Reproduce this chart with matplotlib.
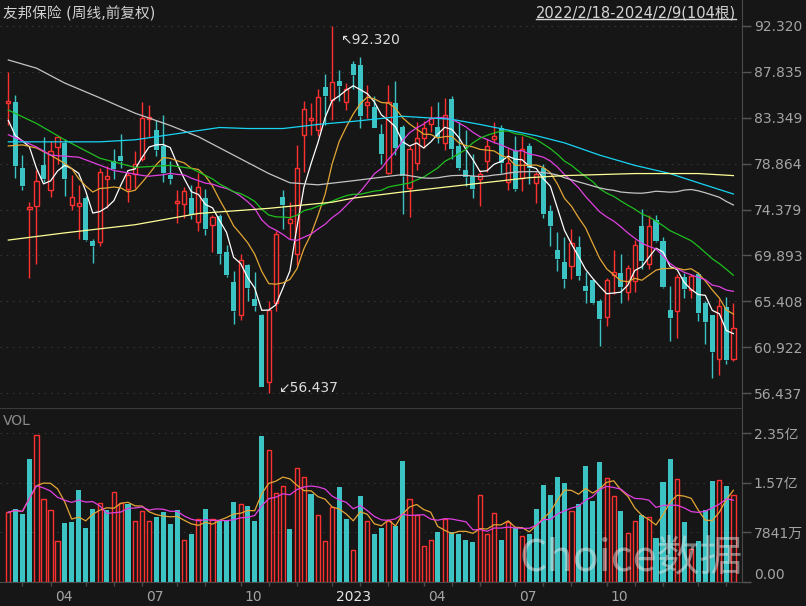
import numpy as np
import pandas as pd
import matplotlib
matplotlib.use('Agg')
import matplotlib.pyplot as plt
from matplotlib.transforms import offset_copy

plt.rcParams['font.family'] = ['DejaVu Sans', 'Noto Sans CJK SC']

# weekly bars 2022/2/18 - 2024/2/9 (104), front-adjusted
opens = [84.8, 84.9, 78.41, 74.41, 74.76, 78.73, 76.34, 80.45, 80.87, 74.86,
         74.69, 75.5, 71.35, 71.17, 77.32, 79.15, 79.61, 76.41, 77.85, 79.33,
         83.26, 82.14, 80.56, 77.75, 75.04, 74.93, 75.53, 73.18, 75.53, 72.89,
         73.77, 70.22, 67.3, 64.11, 68.92, 65.69, 64.11, 57.53, 65.27, 75.64,
         73.1, 70.08, 81.68, 83.16, 82.14, 86.36, 85.13, 86.99, 84.92, 88.57,
         88.47, 84.63, 84.42, 81.75, 77.99, 84.78, 82.42, 76.45, 78.98, 81.33,
         82.77, 82.42, 80.84, 85.2, 80.63, 78.24, 77.67, 77.32, 79.08, 81.26,
         82.31, 77.04, 80.13, 77.5, 80.56, 76.97, 78.45, 74.23, 70.43, 69.24,
         68.89, 70.71, 66.92, 67.48, 65.44, 63.93, 67.97, 68.19, 66.32, 67.38,
         72.75, 69.03, 73.35, 71.35, 64.56, 64.46, 67.8, 66.5, 68.08, 65.27,
         64.04, 59.75, 64.88, 59.75]
highs = [87.8, 85.55, 79.68, 75.11, 78.2, 81.44, 81.08, 81.6, 81.26, 77.75,
         76.76, 75.7, 71.52, 78.45, 78.62, 80.27, 81.79, 78.1, 80.06, 84.85,
         84.6, 83.09, 83.6, 79.15, 76.34, 76.58, 76.76, 77.92, 76.41, 73.84,
         73.98, 70.89, 68.33, 70.08, 69.03, 68.26, 64.21, 65.44, 72.3, 76.27,
         75.11, 80.73, 84.95, 84.78, 86.18, 87.59, 92.32, 88.01, 86.71, 88.89,
         89.27, 86.53, 85.48, 82.77, 86.6, 86.95, 82.67, 80.56, 82.91, 83.02,
         84.53, 84.85, 85.3, 85.48, 82.91, 82.14, 79.78, 78.27, 81.26, 82.91,
         82.67, 80.38, 81.54, 81.61, 80.91, 78.1, 78.8, 74.83, 72.19, 71.7,
         72.47, 71.84, 68.26, 67.62, 65.62, 67.73, 70.47, 70.01, 68.96, 71.42,
         74.41, 73.88, 73.88, 71.7, 66.92, 68.08, 68.19, 68.08, 68.26, 65.44,
         64.04, 65.62, 65.79, 65.27]
lows = [82.6, 77.5, 76.27, 67.73, 69.06, 77.04, 75.64, 78.87, 75.71, 74.3,
        71.52, 71.35, 69.13, 70.79, 74.58, 77.4, 78.45, 75.11, 76.52, 79.15,
        81.44, 79.57, 77.04, 76.87, 73.1, 73.6, 73.46, 72.3, 71.87, 70.26,
        69.03, 67.8, 63.16, 63.58, 65.44, 64.46, 57.0, 56.437, 64.46, 72.47,
        71.49, 68.96, 78.1, 81.68, 81.54, 82.67, 83.09, 84.95, 84.07, 86.18,
        82.39, 83.37, 82.31, 78.8, 77.9, 79.68, 73.98, 73.7, 78.27, 80.38,
        81.96, 80.84, 80.2, 79.33, 78.27, 76.7, 75.53, 74.76, 78.1, 80.91,
        77.92, 76.34, 76.16, 76.23, 76.87, 75.04, 73.53, 70.82, 68.33, 66.74,
        67.62, 67.48, 65.27, 65.2, 61.05, 62.98, 66.15, 65.27, 65.51, 66.32,
        68.54, 68.61, 71.24, 66.67, 61.58, 61.86, 65.72, 65.72, 63.51, 61.22,
        57.95, 58.17, 59.3, 59.56]
closes = [85.0, 78.66, 76.66, 74.62, 77.15, 77.36, 80.13, 81.51, 77.36, 75.57,
          75.04, 71.42, 70.79, 78.1, 77.64, 78.31, 79.15, 77.75, 78.87, 83.3,
          83.4, 80.2, 77.92, 77.39, 75.21, 76.23, 73.88, 76.58, 72.47, 73.63,
          70.08, 67.97, 64.46, 69.42, 66.74, 64.99, 57.08, 64.56, 71.97, 74.86,
          73.46, 78.45, 84.18, 83.37, 85.37, 85.45, 86.81, 86.43, 86.18, 87.52,
          83.55, 84.85, 82.39, 79.85, 84.85, 80.35, 77.64, 80.27, 81.33, 82.39,
          83.3, 81.44, 83.65, 80.27, 78.45, 77.53, 76.41, 77.85, 80.63, 81.61,
          78.91, 78.98, 76.41, 80.31, 78.45, 77.82, 73.98, 72.75, 69.59, 67.62,
          71.14, 67.9, 66.43, 65.27, 63.69, 67.48, 68.26, 66.85, 68.68, 70.89,
          69.31, 72.82, 71.35, 66.85, 63.76, 67.83, 66.57, 67.9, 64.32, 63.4,
          60.45, 64.92, 59.71, 62.8]
# volume, unit 1e8 shares (亿)
volumes = [1.10, 1.16, 1.08, 1.94, 2.32, 1.31, 1.14, 0.64, 0.93, 0.95,
           1.46, 0.85, 1.16, 1.25, 1.14, 1.42, 1.25, 1.23, 0.97, 1.12,
           0.97, 1.03, 1.11, 0.92, 1.14, 0.67, 0.75, 0.99, 1.16, 0.99,
           0.98, 0.97, 1.26, 1.23, 1.20, 0.97, 2.30, 2.09, 1.40, 1.52,
           0.83, 1.80, 1.66, 1.39, 1.05, 0.64, 1.18, 1.50, 1.00, 0.51,
           1.36, 0.97, 0.75, 0.85, 0.97, 0.88, 1.91, 1.31, 1.05, 0.57,
           0.67, 0.79, 1.00, 0.79, 0.75, 0.67, 0.63, 1.37, 0.76, 1.09,
           0.66, 0.95, 0.86, 0.73, 0.76, 1.15, 1.53, 1.37, 1.65, 1.56,
           1.12, 1.23, 1.83, 1.28, 1.89, 1.64, 1.35, 1.12, 0.77, 0.96,
           1.06, 1.02, 0.69, 1.58, 1.94, 1.62, 0.95, 0.52, 0.65, 1.14,
           1.59, 1.61, 1.52, 1.38]

# moving-average values before the window fills
ma5_early_w = [0, 1, 2, 3]
ma5_early_v = [83.1, 81.6, 81.1, 80.5]
ma10_early_w = [0, 2, 4, 6, 8]
ma10_early_v = [80.6, 80.7, 80.4, 79.7, 78.9]
ma20_early_w = [0, 4, 6, 10, 15]
ma20_early_v = [81.7, 80.5, 79.7, 79.5, 78.2]
ma30_early_w = [0, 4, 8, 13, 18, 23, 26]
ma30_early_v = [84.1, 82.8, 81.2, 79.4, 78.5, 78.7, 78.4]
ma60_early_w = [0, 4, 8, 13, 18, 23, 27, 32, 37, 40, 44, 49, 56]
ma60_early_v = [89.0, 88.2, 86.75, 85.3, 83.8, 82.6, 81.5, 79.7, 77.9, 77.0, 76.8, 77.2, 77.8]
ma120_w = [0, 6, 13, 18, 23, 27, 30, 34, 39, 44, 49, 56, 63, 67, 75, 79, 84, 89, 94, 98, 103]
ma120_v = [81.0, 81.0, 81.0, 81.2, 81.7, 82.1, 82.4, 82.3, 82.3, 82.7, 83.0, 83.5,
           83.2, 82.7, 81.6, 80.9, 79.7, 78.7, 77.9, 77.0, 75.9]
ma250_w = [0, 8, 18, 27, 37, 46, 49, 56, 65, 74, 79, 89, 98, 103]
ma250_v = [71.4, 72.1, 72.9, 74.0, 74.5, 75.1, 75.5, 76.1, 76.8, 77.5, 77.7, 77.9, 77.9, 77.7]

price_ticks = [92.320, 87.835, 83.349, 78.864, 74.379, 69.893, 65.408, 60.922, 56.437]
vol_ticks = [0.0, 0.7841, 1.5682, 2.3523]
vol_tick_labels = ['0.00', '7841万', '1.57亿', '2.35亿']

month_weeks = [2, 6, 11, 15, 19, 24, 28, 33, 37, 41, 46, 50, 54, 59, 63, 67,
               72, 76, 80, 85, 89, 93, 98, 102]
label_weeks = [6, 19, 33, 46, 59, 72, 85]
label_texts = ['04', '07', '10', '2023', '04', '07', '10']

BG = '#161616'
RED = '#ff3030'
CYAN = '#3cc4c4'
GRID = '#3a3a3a'
TXT = '#a4a4a4'


def ma_line(values, n, early_w, early_v):
    m = pd.Series(values).rolling(n).mean().to_numpy()
    x = list(early_w) + list(range(n - 1, len(values)))
    y = list(early_v) + list(m[n - 1:])
    return x, y


fig = plt.figure(figsize=(8.06, 6.06), dpi=100, facecolor=BG)
ax = fig.add_axes([0, 198 / 606, 742 / 806, 408 / 606], facecolor=BG)
axv = fig.add_axes([0, 24 / 606, 742 / 806, 174 / 606], facecolor=BG, sharex=ax)

o, h, l, c = (np.asarray(a) for a in (opens, highs, lows, closes))
x = np.arange(len(c))
up = c >= o
top = np.maximum(o, c)
bot = np.minimum(o, c)
cols = np.where(up, RED, CYAN)
ax.vlines(x, top, h, colors=cols, lw=1, zorder=2)
ax.vlines(x, l, bot, colors=cols, lw=1, zorder=2)
body = np.maximum(top - bot, 0.12)
ax.bar(x[up], body[up], bottom=bot[up], width=0.6, facecolor=BG,
       edgecolor=RED, lw=1, zorder=2)
ax.bar(x[~up], body[~up], bottom=bot[~up], width=0.72, color=CYAN, lw=0, zorder=2)

# moving averages
lines = [
    (ma_line(closes, 5, ma5_early_w, ma5_early_v), '#ffffff'),
    (ma_line(closes, 10, ma10_early_w, ma10_early_v), '#e3a635'),
    (ma_line(closes, 20, ma20_early_w, ma20_early_v), '#e040e0'),
    (ma_line(closes, 30, ma30_early_w, ma30_early_v), '#1fbf1f'),
    (ma_line(closes, 60, ma60_early_w, ma60_early_v), '#c4c4c4'),
    ((ma120_w, ma120_v), '#18d4f4'),
    ((ma250_w, ma250_v), '#ffff96'),
]
for (lx, ly), col in lines:
    ax.plot(lx, ly, color=col, lw=0.9, zorder=3)

ax.set_xlim(-1.18, 104.22)
ax.set_ylim(54.99, 94.86)
ax.set_yticks(price_ticks)
ax.set_yticklabels([f'{v:.3f}' for v in price_ticks])
ax.yaxis.tick_right()
ax.tick_params(axis='y', colors='#555555', labelcolor=TXT, labelsize=10,
               length=6.5, width=1, pad=2)
ax.tick_params(axis='x', bottom=False, labelbottom=False)
ax.grid(axis='y', color=GRID, linestyle=(0, (1.2, 4.5)), lw=0.8)
for s in ['top', 'left', 'bottom']:
    ax.spines[s].set_visible(False)
ax.spines['right'].set_color('#4a4a4a')

# high / low annotations
ihi = int(np.argmax(h))
ilo = int(np.argmin(l))
ax.annotate('\u2196' + f'{h[ihi]:.3f}', xy=(ihi, h[ihi]), xytext=(6, -5),
            textcoords='offset points', ha='left', va='top',
            color='#dcdcdc', fontsize=10, zorder=5)
ax.annotate('\u2199' + f'{l[ilo]:.3f}', xy=(ilo, l[ilo]), xytext=(6.5, -1),
            textcoords='offset points', ha='left', va='bottom',
            color='#dcdcdc', fontsize=10, zorder=5)

# volume
v = np.asarray(volumes)
vup = np.r_[True, c[1:] >= c[:-1]]
axv.bar(x[vup], v[vup], width=0.6, facecolor=BG, edgecolor=RED, lw=1, zorder=2)
axv.bar(x[~vup], v[~vup], width=0.72, color=CYAN, lw=0, zorder=2)
axv.plot(x, pd.Series(volumes).rolling(5, min_periods=1).mean(), color='#e3a635', lw=0.9, zorder=3)
axv.plot(x, pd.Series(volumes).rolling(10, min_periods=1).mean(), color='#e040e0', lw=0.9, zorder=3)
axv.set_ylim(0, 2.747)
axv.set_yticks(vol_ticks)
axv.set_yticklabels(vol_tick_labels)
axv.yaxis.tick_right()
axv.tick_params(axis='y', colors='#555555', labelcolor=TXT, labelsize=10,
                length=6.5, width=1, pad=2)
axv.get_yticklabels()[0].set_va('bottom')
axv.grid(axis='y', color=GRID, linestyle=(0, (1.2, 4.5)), lw=0.8)
axv.spines['left'].set_visible(False)
axv.spines['right'].set_color('#4a4a4a')
axv.spines['top'].set_color('#3a3a3a')
axv.spines['bottom'].set_color('#4a4a4a')
axv.set_xticks(month_weeks)
axv.tick_params(axis='x', colors='#4a4a4a', length=3, width=1, labelbottom=False)

for wk, txt in zip(label_weeks, label_texts):
    tr = offset_copy(axv.get_xaxis_transform(), fig=fig, x=3, y=-6, units='points')
    axv.text(wk, 0, txt, transform=tr, ha='left', va='top', fontsize=10,
             color='#e6e6e6' if txt == '2023' else TXT)

# header texts
fig.text(3 / 806, 1 - 14 / 606, '友邦保险 (周线,前复权)', ha='left', va='center',
         fontsize=10.5, color='#d0d0d0')
dt = fig.text(736 / 806, 1 - 13 / 606, '2022/2/18-2024/2/9(104根)', ha='right',
              va='center', fontsize=10.5, color='#d4d4d4')
fig.text(3 / 806, 1 - 421 / 606, 'VOL', ha='left', va='center', fontsize=10,
         color='#8c8c8c')
fig.text(631 / 806, 1 - 558 / 606, 'Choice数据', ha='center', va='center',
         fontsize=31, color='#e8e8e8', alpha=0.48, family=['Noto Sans CJK SC'],
         zorder=10)

fig.canvas.draw()
bb = dt.get_window_extent().transformed(fig.transFigure.inverted())
fig.add_artist(plt.Line2D([bb.x0, bb.x1], [bb.y0 + 0.002, bb.y0 + 0.002],
                          color='#d4d4d4', lw=1, transform=fig.transFigure))

fig.savefig('out.png', dpi=100, facecolor=BG)
